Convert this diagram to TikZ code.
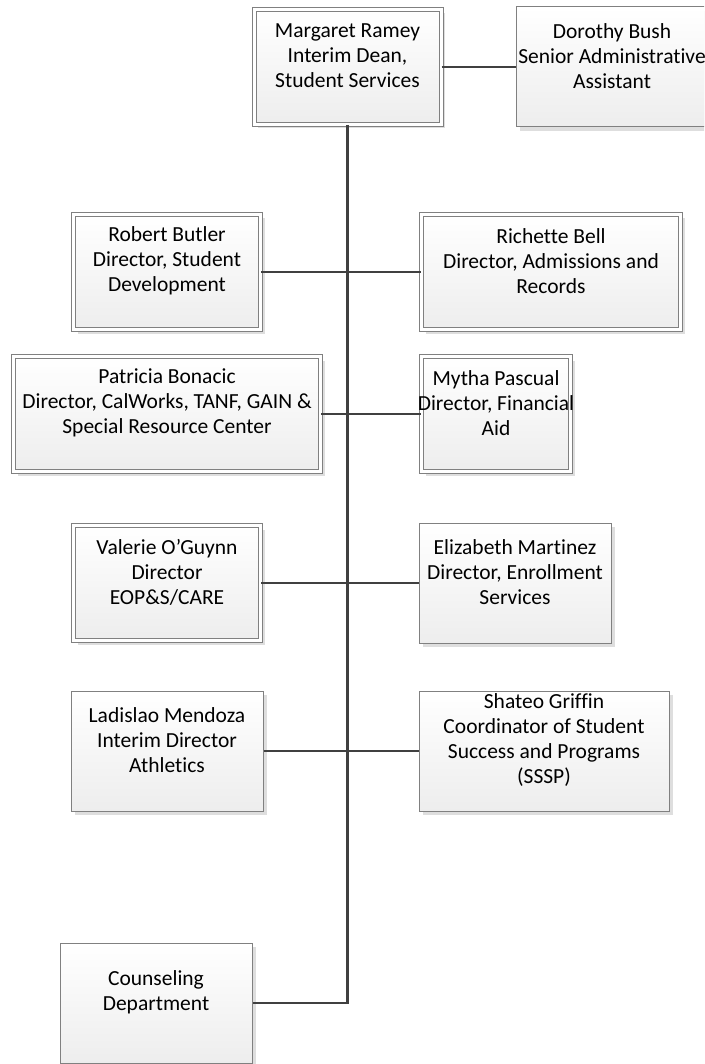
\documentclass[tikz,border=0pt]{standalone}
\usepackage{fontspec}
\setmainfont{Carlito}[Ligatures={NoCommon}]
\usetikzlibrary{shadows}

\tikzset{
  unit/.style={rectangle, draw=black!50, line width=1pt,
    top color=white, bottom color=black!7,
    minimum width=192pt, minimum height=120pt, inner sep=0pt,
    drop shadow={shadow xshift=4pt, shadow yshift=-4pt, fill=black!13, opacity=1}},
  chief/.style={unit, double=white, double distance=3pt,
    minimum width=187pt, minimum height=115pt},
  boxtext/.style={align=center, inner sep=0pt, yshift=11pt,
    font=\fontsize{21.5}{25}\selectfont},
  link/.style={draw=black!75, line width=2.5pt}
}

\begin{document}
\begin{tikzpicture}[x=1pt, y=-1pt]
  \useasboundingbox (0,0) rectangle (704,1064);
  \clip (0,0) rectangle (704,1064);

  % dean and assistant
  \node[chief] (ramey) at (347.5,67)
    [label={[boxtext]center:{Margaret Ramey\\Interim Dean,\\Student Services}}] {};
  \node[unit] (bush) at (612,67)
    [label={[boxtext]center:{Dorothy Bush\\Senior Administrative\\Assistant}}] {};

  % directors, left column
  \node[chief] (butler) at (167,272)
    [label={[boxtext]center:{Robert Butler\\Director, Student\\Development}}] {};
  \node[chief, minimum width=307pt] (bonacic) at (167,414)
    [label={[boxtext]center:{Patricia Bonacic\\Director, CalWorks, TANF, GAIN \&\\Special Resource Center}}] {};
  \node[chief] (oguynn) at (167,583)
    [label={[boxtext]center:{Valerie O’Guynn\\Director\\EOP\&S/CARE}}] {};
  \node[unit] (mendoza) at (167,751)
    [label={[boxtext]center:{Ladislao Mendoza\\Interim Director\\Athletics}}] {};
  \node[unit] (counsel) at (156,1003)
    [label={[boxtext]center:{Counseling\\Department}}] {};

  % directors, right column
  \node[chief, minimum width=259pt] (bell) at (551,272)
    [label={[boxtext]center:{Richette Bell\\Director, Admissions and\\Records}}] {};
  \node[chief, minimum width=149pt] (pascual) at (496,414)
    [label={[boxtext]center:{Mytha Pascual\\Director, Financial\\Aid}}] {};
  \node[unit] (martinez) at (515,583)
    [label={[boxtext]center:{Elizabeth Martinez\\Director, Enrollment\\Services}}] {};
  \node[unit, minimum width=250pt] (griffin) at (544,751)
    [label={[boxtext]center:{Shateo Griffin\\Coordinator of Student\\Success and Programs\\(SSSP)}}] {};

  % reporting lines
  \path[link] (ramey.south) |- (counsel.east);
  \path[link] (ramey.east) -- (bush.west);
  \path[link] (butler.east) -- (bell.west);
  \path[link] (bonacic.east) -- (pascual.west);
  \path[link] (oguynn.east) -- (martinez.west);
  \path[link] (mendoza.east) -- (griffin.west);
\end{tikzpicture}
\end{document}
